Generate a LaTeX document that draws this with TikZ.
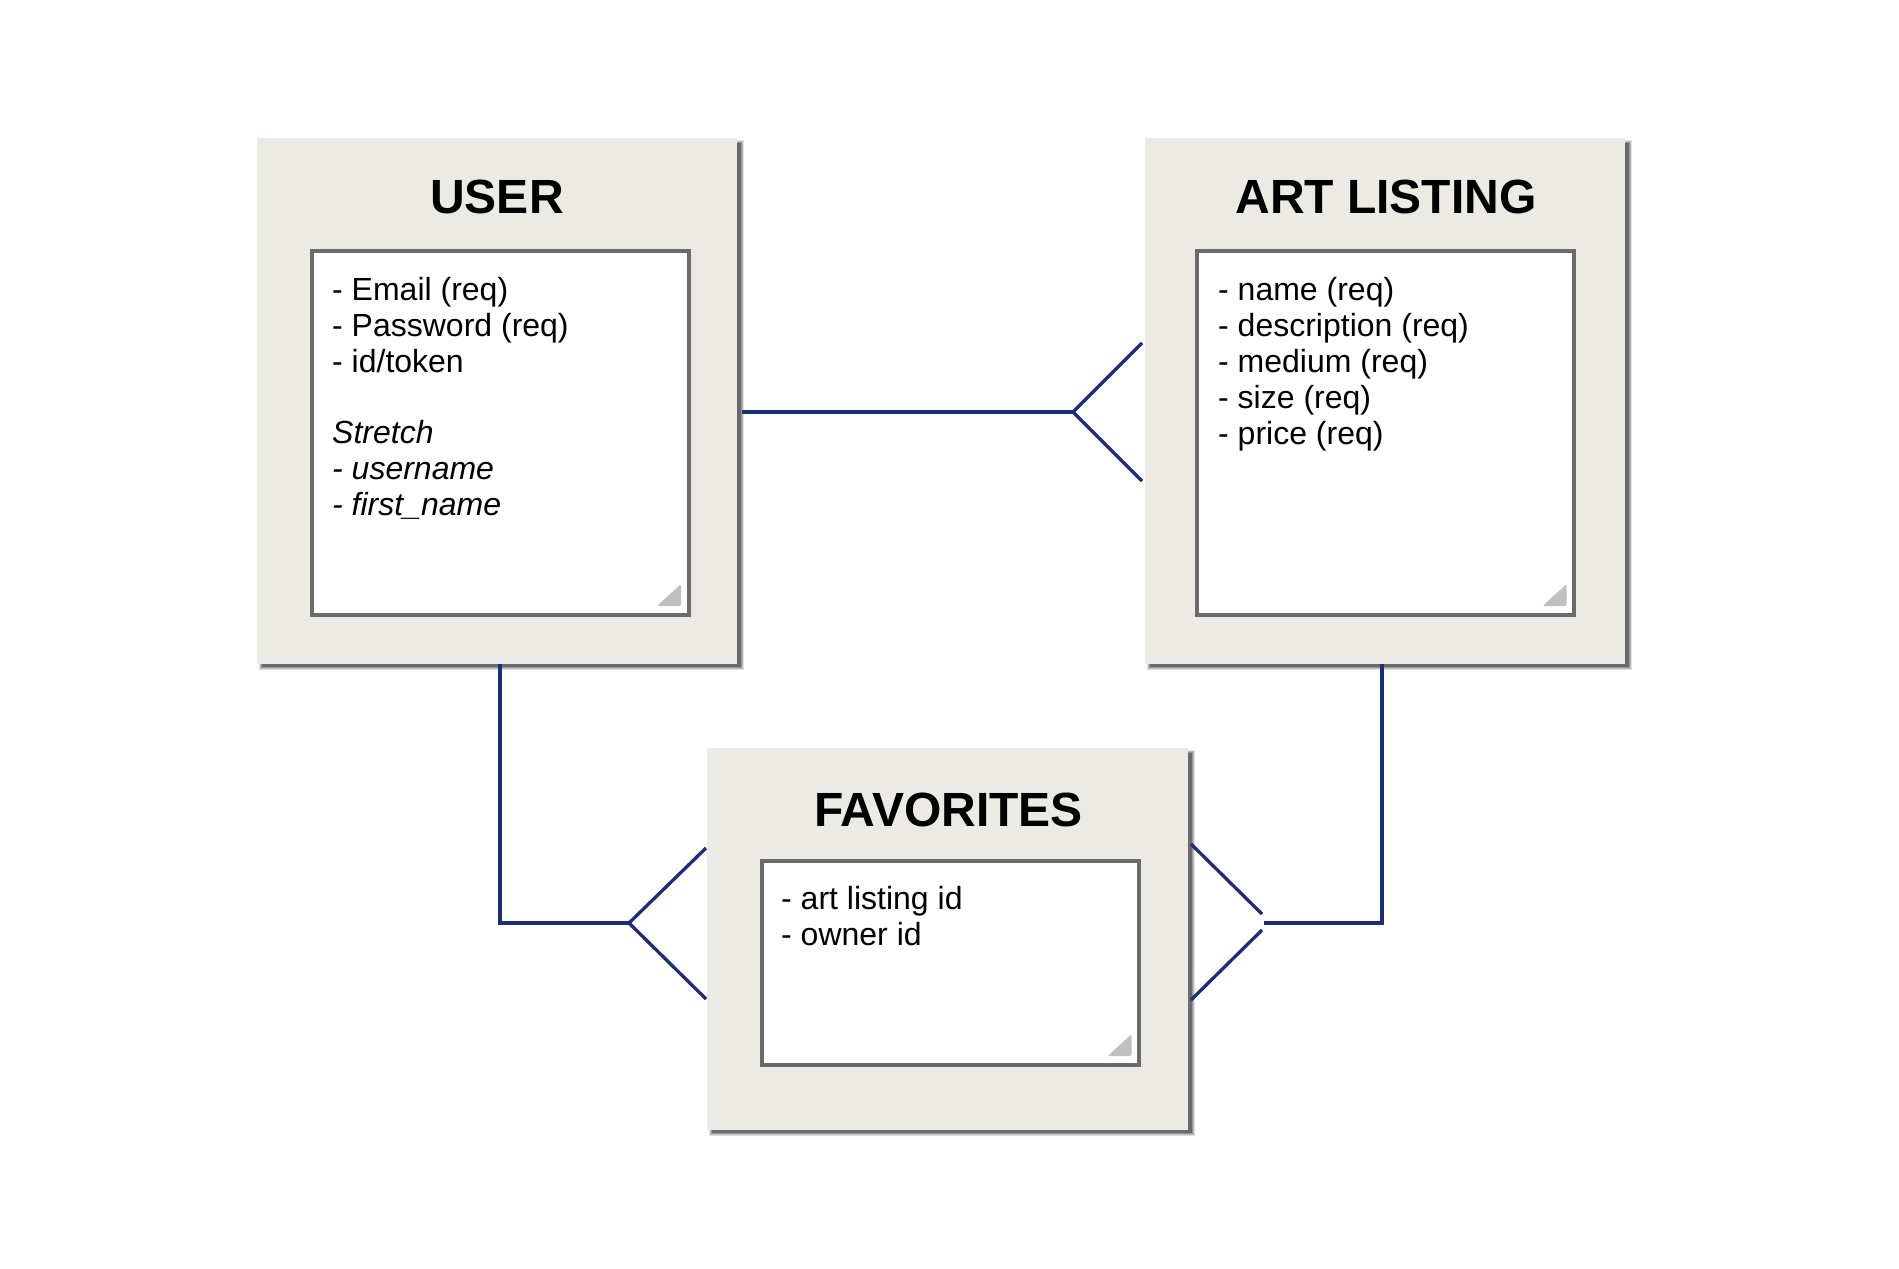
\documentclass[tikz,border=0pt]{standalone}
\usepackage{fontspec}
\setmainfont{Liberation Sans}
\usetikzlibrary{calc}
\definecolor{boxbg}{RGB}{236,234,228}
\definecolor{bordergray}{RGB}{107,107,107}
\definecolor{cornergray}{RGB}{192,192,192}
\definecolor{navy}{RGB}{27,46,125}
\newcommand\myshadow[4]{%
  \foreach \d/\op in {3/0.12,2/0.15,1/0.2,0/0.3}{%
    \fill[black,opacity=\op] ({#1+5-\d},{#2+5-\d}) rectangle ({#3+4+\d},{#4+3+\d});}}
\begin{document}
\begin{tikzpicture}[x=1pt,y=-1pt,
  entity/.style={fill=boxbg, inner sep=0, outer sep=0, minimum width=480pt},
  attrbox/.style={draw=bordergray, line width=4pt, fill=white, inner sep=0, outer sep=0, minimum width=377pt},
  titletext/.style={font=\fontsize{48}{52}\selectfont\bfseries, inner sep=0, anchor=base},
  bodytext/.style={font=\fontsize{32}{36}\selectfont, inner sep=0, anchor=base west},
  conn/.style={draw=navy, line width=3.3pt},
  resizemark/.style={fill=cornergray, rounded corners=1.5pt}]

\fill[white] (0,0) rectangle (1899,1269);
\useasboundingbox (0,0) rectangle (1899,1269);

% ---------- USER ----------
\myshadow{257}{138}{737}{664}
\node[entity, minimum height=526pt] (user) at (497,401) {};
\node[attrbox, minimum height=363.5pt] (userin) at (500,432.75) {};
\fill[resizemark] ($(userin.south east)+(-31.5,-8.5)$) -- ($(userin.south east)+(-7.5,-8.5)$) -- ($(userin.south east)+(-7.5,-30.5)$) -- cycle;
\node[titletext] (usertitle) at (497,213) {USER};
\node[bodytext] (u1) at (332,300) {- Email (req)};
\node[bodytext] (u2) at (332,336) {- Password (req)};
\node[bodytext] (u3) at (332,372) {- id/token};
\node[bodytext] (u4) at (332,443) {\itshape Stretch};
\node[bodytext] (u5) at (332,479) {\itshape - username};
\node[bodytext] (u6) at (332,515) {\itshape - first\_name};

% ---------- ART LISTING ----------
\myshadow{1145}{138}{1625}{664}
\node[entity, minimum height=526pt] (art) at (1385,401) {};
\node[attrbox, minimum height=363.5pt] (artin) at (1385.5,432.75) {};
\fill[resizemark] ($(artin.south east)+(-31.5,-8.5)$) -- ($(artin.south east)+(-7.5,-8.5)$) -- ($(artin.south east)+(-7.5,-30.5)$) -- cycle;
\node[titletext] (arttitle) at (1386,213) {ART LISTING};
\node[bodytext] (a1) at (1218,300) {- name (req)};
\node[bodytext] (a2) at (1218,336) {- description (req)};
\node[bodytext] (a3) at (1218,372) {- medium (req)};
\node[bodytext] (a4) at (1218,408) {- size (req)};
\node[bodytext] (a5) at (1218,444) {- price (req)};

% ---------- FAVORITES ----------
\myshadow{707}{748}{1188}{1130}
\node[entity, minimum width=481pt, minimum height=382pt] (fav) at (947.5,939) {};
\node[attrbox, minimum height=203.7pt] (favin) at (950.5,962.85) {};
\fill[resizemark] ($(favin.south east)+(-31.5,-8.5)$) -- ($(favin.south east)+(-7.5,-8.5)$) -- ($(favin.south east)+(-7.5,-30.5)$) -- cycle;
\node[titletext] (favtitle) at (948.5,826) {FAVORITES};
\node[bodytext] (f1) at (781,909) {- art listing id};
\node[bodytext] (f2) at (781,945) {- owner id};

% ---------- connectors ----------
\coordinate (j1) at (1073,412);
\coordinate (c1a) at (1142,343);
\coordinate (c1b) at (1142,481);
\draw[conn] ([xshift=4.5pt]user.east |- j1) -- (j1);
\draw[conn] (c1a) -- (j1) -- (c1b);

\coordinate (j2) at (629,923);
\coordinate (c2a) at (706,848);
\coordinate (c2b) at (706,999);
\draw[conn] ([xshift=3pt]user.south) |- (j2);
\draw[conn] (c2a) -- (j2) -- (c2b);

\coordinate (j3) at (1264,923);
\coordinate (c3a) at (1191,844);
\coordinate (c3b) at (1262,914);
\coordinate (c3c) at (1262,930);
\coordinate (c3d) at (1191,1000);
\draw[conn] ([xshift=-3pt]art.south) |- (j3);
\draw[conn] (c3a) -- (c3b);
\draw[conn] (c3c) -- (c3d);
\end{tikzpicture}
\end{document}
